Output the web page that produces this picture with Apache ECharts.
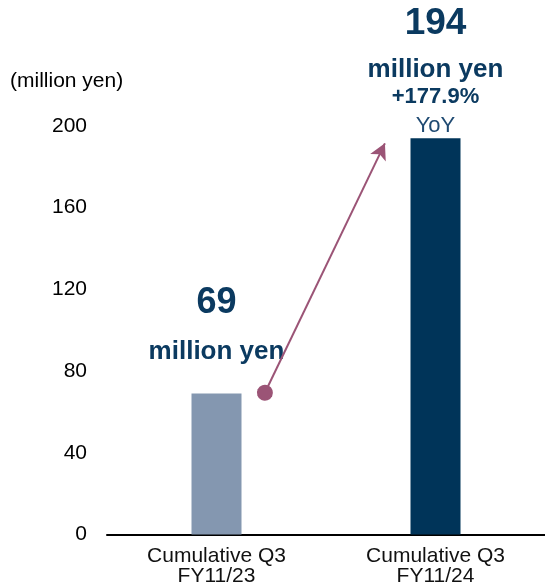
<!DOCTYPE html>
<html>
<head>
<meta charset="utf-8">
<script src="https://cdn.jsdelivr.net/npm/echarts@6/dist/echarts.min.js"></script>
<style>
html,body{margin:0;padding:0;background:#fff;}
#chart{width:545px;height:583px;}
</style>
</head>
<body>
<div id="chart"></div>
<script>
var categories = ['Cumulative Q3\nFY11/23', 'Cumulative Q3\nFY11/24'];
var values = [69, 194];
var barColors = ['#8497b0', '#003459'];
var yTicks = [0, 40, 80, 120, 160, 200];
var unitLabel = '(million yen)';
var valueUnit = 'million yen';
var growthText = '+177.9%';
var growthSuffix = 'YoY';
var arrowStart = [0.221, 69.4];
var arrowEnd = [0.769, 191.5];

var navy = '#0b3a60';
var arrowColor = '#9b5476';
var font = 'Liberation Sans, Arial, sans-serif';

var chart = echarts.init(document.getElementById('chart'), null, {renderer: 'canvas'});

var barData = values.map(function (v, i) {
  var item = {value: v, itemStyle: {color: barColors[i]}};
  if (i === 0) {
    item.label = {
      show: true, position: 'top', distance: 17,
      formatter: '{a|' + v + '}\n{b|' + valueUnit + '}',
      rich: {
        a: {fontSize: 36, fontWeight: 'bold', color: navy, fontFamily: font, lineHeight: 49, align: 'center'},
        b: {fontSize: 26, fontWeight: 'bold', color: navy, fontFamily: font, lineHeight: 49, align: 'center'}
      }
    };
  } else {
    item.label = {
      show: true, position: 'top', distance: 0,
      formatter: '{a|' + v + '}\n{b|' + valueUnit + '}\n{c|' + growthText + '}\n{d|' + growthSuffix + '}',
      rich: {
        a: {fontSize: 37, fontWeight: 'bold', color: navy, fontFamily: font, lineHeight: 73, align: 'center'},
        b: {fontSize: 26, fontWeight: 'bold', color: navy, fontFamily: font, lineHeight: 20, align: 'center'},
        c: {fontSize: 22, fontWeight: 'bold', color: navy, fontFamily: font, lineHeight: 34, align: 'center'},
        d: {fontSize: 22, color: '#1f4a72', fontFamily: font, lineHeight: 24, align: 'center'}
      }
    };
  }
  return item;
});

var option = {
  backgroundColor: '#fff',
  animation: false,
  title: {
    text: unitLabel, left: 5, top: 66,
    textStyle: {fontSize: 21, fontWeight: 'normal', color: '#000', fontFamily: font}
  },
  grid: {left: 107, right: 0, top: 126, bottom: 48.5, containLabel: false, outerBoundsMode: 'none'},
  xAxis: [{
    type: 'category', data: categories,
    axisLine: {lineStyle: {color: '#000', width: 2}},
    axisTick: {show: false},
    axisLabel: {fontSize: 21, lineHeight: 20, color: '#111', fontFamily: font, margin: 12}
  }, {
    type: 'value', min: -0.5, max: 1.5, show: false
  }],
  yAxis: {
    type: 'value', min: yTicks[0], max: yTicks[yTicks.length - 1], interval: 40,
    axisLine: {show: false}, axisTick: {show: false}, splitLine: {show: false},
    axisLabel: {fontSize: 21, color: '#000', fontFamily: font, margin: 20}
  },
  series: [{
    type: 'bar', data: barData, barWidth: 50, xAxisIndex: 0
  }, {
    type: 'line', xAxisIndex: 1, data: [arrowStart, arrowEnd],
    symbol: 'none', lineStyle: {width: 0, opacity: 0}, silent: true,
    markLine: {
      silent: true, animation: false,
      label: {show: false},
      lineStyle: {color: arrowColor, width: 2, type: 'solid'},
      data: [[
        {coord: arrowStart, symbol: 'circle', symbolSize: 16, itemStyle: {color: arrowColor}},
        {coord: arrowEnd, symbol: 'arrow', symbolSize: [13, 16], itemStyle: {color: arrowColor}}
      ]]
    }
  }]
};
chart.setOption(option);
</script>
</body>
</html>
